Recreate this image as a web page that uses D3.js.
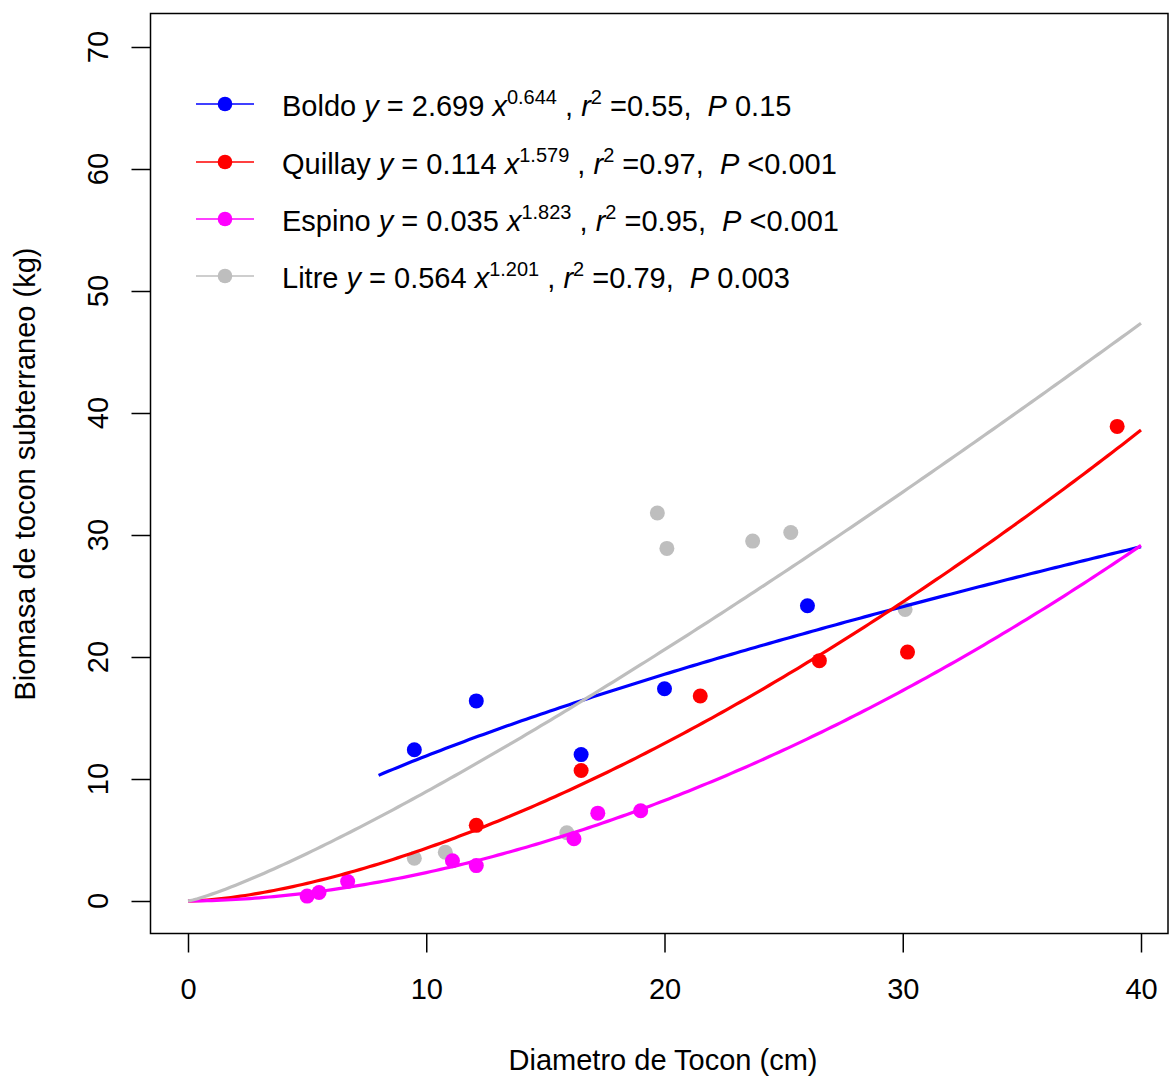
<!DOCTYPE html>
<html>
<head>
<meta charset="utf-8">
<script src="https://cdn.jsdelivr.net/npm/d3@7"></script>
<style>
  html, body { margin: 0; padding: 0; background: #fff; }
  svg text { font-family: "Liberation Sans", Arial, sans-serif; fill: #000; }
</style>
</head>
<body>
<div id="chart"></div>
<script>
// species and fitted model y = a * x^b
var species = ["Boldo", "Quillay", "Espino", "Litre"];
var colors  = ["#0000ff", "#ff0000", "#ff00ff", "#bebebe"];
var coefA   = [2.699, 0.114, 0.035, 0.564];
var coefB   = [0.644, 1.579, 1.823, 1.201];
var r2      = ["0.55", "0.97", "0.95", "0.79"];
var pvals   = ["0.15", "<0.001", "<0.001", "0.003"];
var curveFrom = [8, 0, 0, 0];

// observed points (diameter cm, biomass kg)
var boldoX   = [9.5, 12.1, 16.5, 20.0, 26.0];
var boldoY   = [12.4, 16.4, 12.0, 17.4, 24.2];
var quillayX = [12.1, 16.5, 21.5, 26.5, 30.2, 39.0];
var quillayY = [6.2, 10.7, 16.8, 19.7, 20.4, 38.9];
var espinoX  = [5.0, 5.5, 6.7, 11.1, 12.1, 16.2, 17.2, 19.0];
var espinoY  = [0.4, 0.7, 1.6, 3.3, 2.9, 5.1, 7.2, 7.4];
var litreX   = [9.5, 10.8, 15.9, 19.7, 20.1, 23.7, 25.3, 30.1];
var litreY   = [3.5, 4.0, 5.6, 31.8, 28.9, 29.5, 30.2, 23.9];

var xTicks = [0, 10, 20, 30, 40];
var yTicks = [0, 10, 20, 30, 40, 50, 60, 70];

var W = 1169, H = 1076;
var box = {left: 150.5, top: 13.5, right: 1168, bottom: 933.5};

var x = d3.scaleLinear().domain([0, 40]).range([188, 1141]);
var y = d3.scaleLinear().domain([0, 70]).range([901, 47]);

var svg = d3.select("#chart").append("svg")
    .attr("width", W).attr("height", H);

// plot box
svg.append("rect")
    .attr("x", box.left).attr("y", box.top)
    .attr("width", box.right - box.left).attr("height", box.bottom - box.top)
    .attr("fill", "none").attr("stroke", "#000").attr("stroke-width", 1.5);

// x axis
var xAxis = d3.axisBottom(x).tickValues(xTicks).tickSize(19).tickPadding(26);
var gx = svg.append("g").attr("transform", "translate(0," + box.bottom + ")").call(xAxis);
gx.select(".domain").remove();
gx.selectAll("line").attr("stroke-width", 1.5);
gx.selectAll("text").attr("font-size", 29).attr("font-family", "Liberation Sans, Arial, sans-serif");

// y axis with rotated labels
var yAxis = d3.axisLeft(y).tickValues(yTicks).tickSize(19).tickFormat("");
var gy = svg.append("g").attr("transform", "translate(" + box.left + ",0)").call(yAxis);
gy.select(".domain").remove();
gy.selectAll("line").attr("stroke-width", 1.5);
svg.selectAll(".ylab").data(yTicks).enter().append("text")
    .attr("class", "ylab")
    .attr("transform", function(d) { return "translate(108," + y(d) + ") rotate(-90)"; })
    .attr("text-anchor", "middle")
    .attr("font-size", 29)
    .text(function(d) { return d; });

// axis titles
svg.append("text")
    .attr("x", 663).attr("y", 1070)
    .attr("text-anchor", "middle").attr("font-size", 29)
    .text("Diametro de Tocon (cm)");
svg.append("text")
    .attr("transform", "translate(35," + y(35) + ") rotate(-90)")
    .attr("text-anchor", "middle").attr("font-size", 29)
    .text("Biomasa de tocon subterraneo (kg)");

// points
var pts = [
  {k: 3, xs: litreX, ys: litreY},
  {k: 0, xs: boldoX, ys: boldoY},
  {k: 1, xs: quillayX, ys: quillayY},
  {k: 2, xs: espinoX, ys: espinoY}
];
pts.forEach(function(s) {
  svg.append("g").selectAll("circle")
      .data(d3.range(s.xs.length)).enter().append("circle")
      .attr("cx", function(i) { return x(s.xs[i]); })
      .attr("cy", function(i) { return y(s.ys[i]); })
      .attr("r", 7.5)
      .attr("fill", colors[s.k]);
});

// fitted curves
var line = d3.line().x(function(d) { return x(d[0]); }).y(function(d) { return y(d[1]); });
[0, 1, 2, 3].forEach(function(k) {
  var xs = d3.range(curveFrom[k], 40.0001, 0.2);
  var data = xs.map(function(v) { return [v, coefA[k] * Math.pow(v, coefB[k])]; });
  svg.append("path")
      .attr("d", line(data))
      .attr("fill", "none")
      .attr("stroke", colors[k])
      .attr("stroke-width", 3.2);
});

// legend
var legY = [104, 162, 219, 276];
species.forEach(function(name, k) {
  var g = svg.append("g");
  g.append("line").attr("x1", 196).attr("x2", 254)
      .attr("y1", legY[k]).attr("y2", legY[k])
      .attr("stroke", colors[k]).attr("stroke-width", 1.5);
  g.append("circle").attr("cx", 225).attr("cy", legY[k]).attr("r", 7.3)
      .attr("fill", colors[k]);
  var t = g.append("text").attr("x", 282).attr("y", legY[k] + 11.5)
      .attr("font-size", 29).attr("xml:space", "preserve");
  t.append("tspan").text(name + " ");
  t.append("tspan").attr("font-style", "italic").text("y");
  t.append("tspan").text(" = " + coefA[k].toFixed(3) + " ");
  t.append("tspan").attr("font-style", "italic").text("x");
  t.append("tspan").attr("font-size", 20).attr("dy", -12).text(coefB[k].toFixed(3));
  t.append("tspan").attr("dy", 12).text(" , ");
  t.append("tspan").attr("font-style", "italic").text("r");
  t.append("tspan").attr("font-size", 20).attr("dy", -12).text("2");
  t.append("tspan").attr("dy", 12).text(" =" + r2[k] + ",  ");
  t.append("tspan").attr("font-style", "italic").text("P");
  t.append("tspan").text(" " + pvals[k]);
});
</script>
</body>
</html>
